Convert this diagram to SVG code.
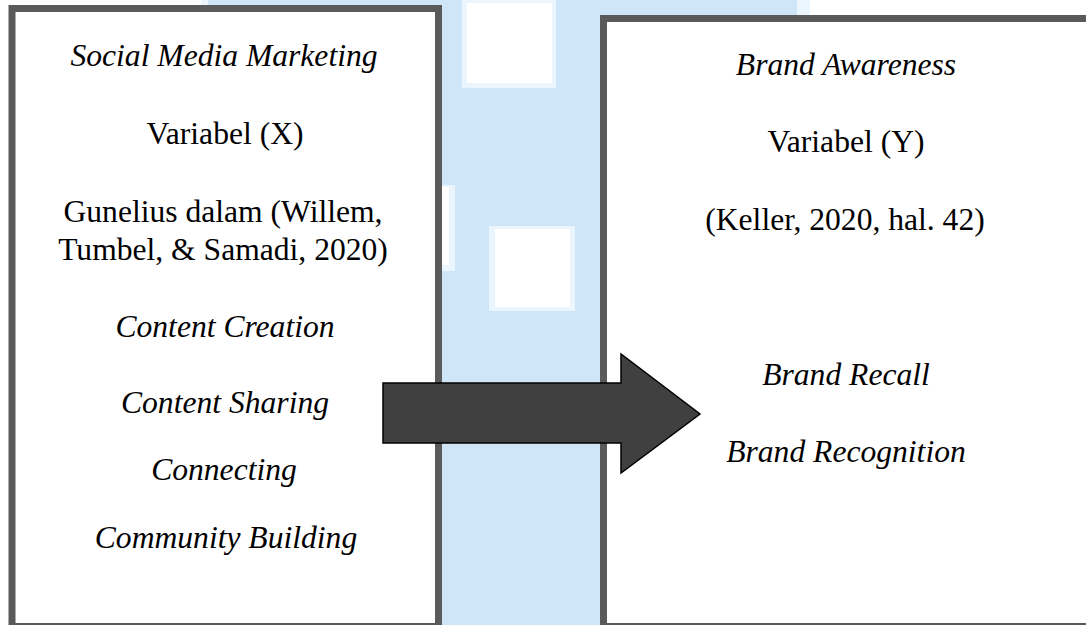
<svg xmlns="http://www.w3.org/2000/svg" width="1086" height="625" viewBox="0 0 1086 625">
  <style>
    .box { fill: #ffffff; stroke: #5a5a5a; stroke-width: 7; }
    .band { fill: #cfe6f8; }
    .halo { fill: #ebf5fd; }
    .patch { fill: #ffffff; }
    .t { font-family: "Liberation Serif", "Times New Roman", serif; font-size: 31.6px; fill: #000000; text-anchor: middle; }
    .i { font-style: italic; }
    .arrow { fill: #404040; stroke: #000000; stroke-width: 1.5; stroke-linejoin: miter; }
  </style>

  <!-- page background -->
  <rect x="0" y="0" width="1086" height="625" fill="#ffffff"/>

  <!-- light blue backdrop band with white cut-outs -->
  <g id="backdrop">
    <rect class="halo" x="201" y="0" width="12" height="6"/>
    <rect class="band" x="208" y="0" width="392" height="6"/>
    <rect class="band" x="438" y="0" width="162" height="625"/>
    <rect class="halo" x="600" y="0" width="210" height="16"/>
    <rect class="band" x="600" y="0" width="197" height="16"/>
    <rect class="band" x="600" y="0" width="193" height="7"/>

    <rect class="halo" x="462" y="0" width="94" height="88"/>
    <rect class="patch" x="467" y="3" width="85" height="80"/>

    <rect class="halo" x="489" y="226" width="86" height="85"/>
    <rect class="patch" x="495" y="229" width="75" height="78"/>

    <rect class="halo" x="441" y="185" width="14" height="86"/>
    <rect class="patch" x="441" y="187" width="8" height="78"/>
  </g>

  <!-- independent variable -->
  <g id="node-x">
    <rect class="box" x="12" y="8.5" width="426.5" height="618"/>
    <text class="t i" x="224" y="66">Social Media Marketing</text>
    <text class="t" x="225" y="144">Variabel (X)</text>
    <text class="t" x="223" y="222">Gunelius dalam (Willem,</text>
    <text class="t" x="223" y="260">Tumbel, &amp; Samadi, 2020)</text>
    <text class="t i" x="225" y="337">Content Creation</text>
    <text class="t i" x="225" y="413">Content Sharing</text>
    <text class="t i" x="224" y="480">Connecting</text>
    <text class="t i" x="226" y="548">Community Building</text>
  </g>

  <!-- dependent variable -->
  <g id="node-y">
    <rect class="box" x="603.5" y="18.5" width="500" height="608"/>
    <text class="t i" x="846" y="75">Brand Awareness</text>
    <text class="t" x="846" y="152">Variabel (Y)</text>
    <text class="t" x="845" y="230">(Keller, 2020, hal. 42)</text>
    <text class="t i" x="846" y="385">Brand Recall</text>
    <text class="t i" x="846" y="462">Brand Recognition</text>
  </g>

  <!-- influence arrow X to Y -->
  <g id="connectors">
    <polygon class="arrow" points="383,383 621,383 621,354 700,414 621,473 621,443 383,443"/>
  </g>
</svg>
